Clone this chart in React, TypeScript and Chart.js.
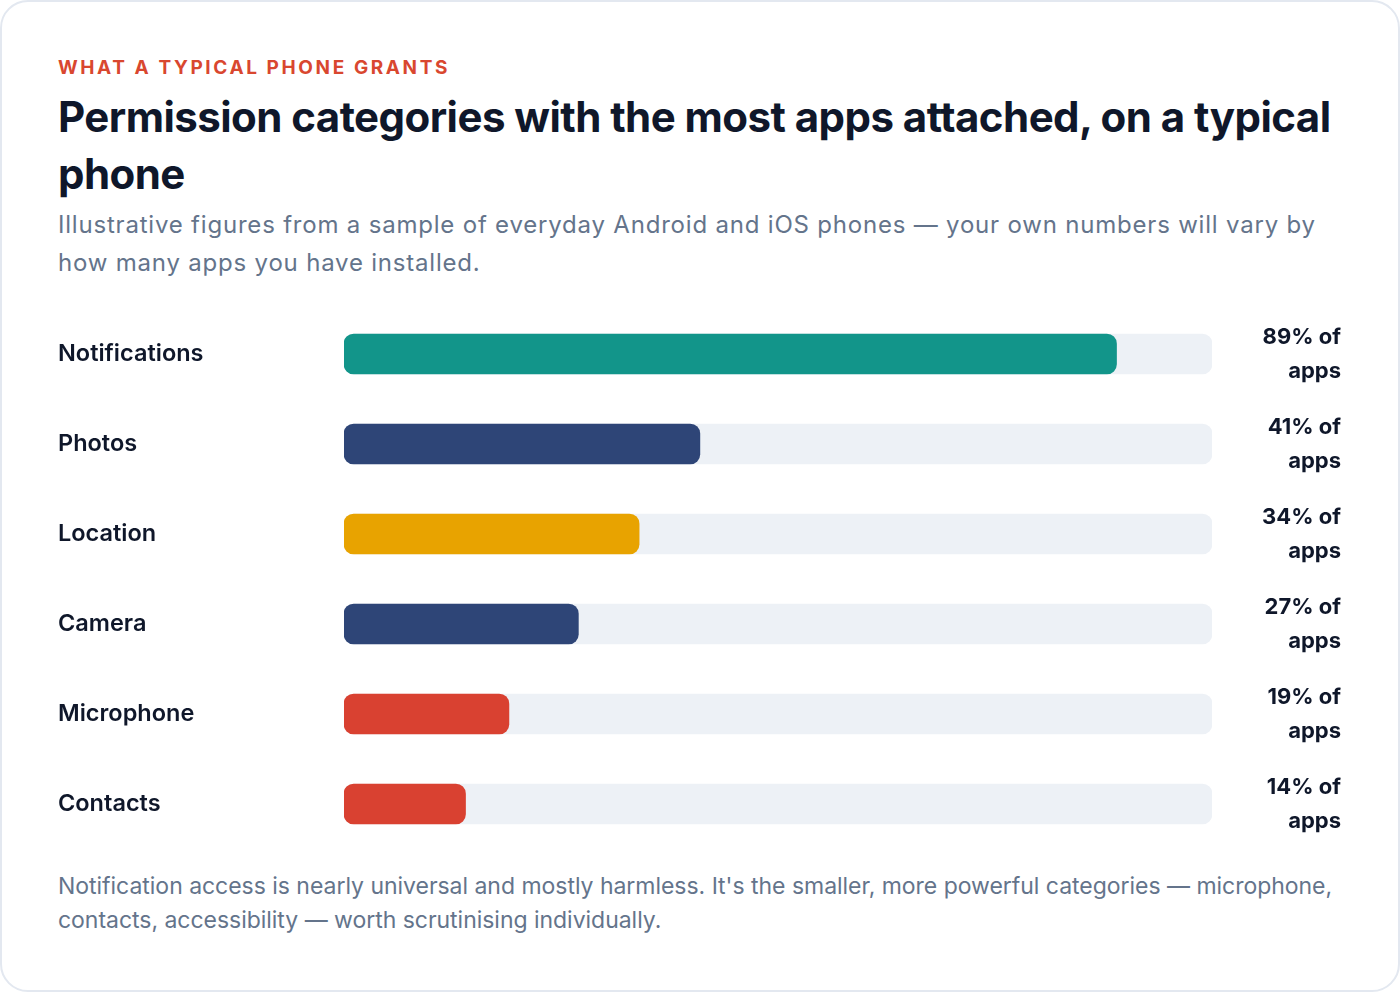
import React, { useEffect, useRef } from "react";
import { Chart, registerables } from "chart.js";

Chart.register(...registerables);

const categories = ["Notifications", "Photos", "Location", "Camera", "Microphone", "Contacts"];
const shares = [89, 41, 34, 27, 19, 14];
const barColors = ["#12958a", "#2e4577", "#e8a300", "#2e4577", "#d94131", "#d94131"];
const trackValues = [100, 100, 100, 100, 100, 100];

const FONT = "Inter, 'Noto Sans', sans-serif";

const noVerticalPadding = (axis: any, width: number) => {
  axis.width = width;
  axis.paddingTop = 0;
  axis.paddingBottom = 0;
};

export default function App() {
  const canvasRef = useRef<HTMLCanvasElement | null>(null);

  useEffect(() => {
    document.body.style.margin = "0";
    const canvas = canvasRef.current;
    if (!canvas) return;
    const chart = new Chart(canvas, {
      type: "bar",
      data: {
        labels: categories,
        datasets: [
          {
            data: shares,
            backgroundColor: barColors,
            borderRadius: 10,
            borderSkipped: false,
            barThickness: 40,
            grouped: false,
            order: 1,
          },
          {
            data: trackValues,
            backgroundColor: "#edf1f6",
            borderRadius: 10,
            borderSkipped: false,
            barThickness: 40,
            grouped: false,
            order: 2,
          },
        ],
      },
      options: {
        indexAxis: "y",
        animation: false,
        responsive: true,
        maintainAspectRatio: false,
        layout: { padding: 0 },
        plugins: { legend: { display: false }, tooltip: { enabled: false } },
        scales: {
          x: { display: false, min: 0, max: 100 },
          y: {
            position: "left",
            grid: { display: false },
            border: { display: false },
            ticks: {
              crossAlign: "far",
              padding: 0,
              color: "#0f172a",
              font: { family: FONT, size: 23.5, weight: 600 },
            },
            afterFit: (axis: any) => noVerticalPadding(axis, 286),
          },
          y2: {
            type: "category",
            position: "right",
            labels: categories,
            offset: true,
            grid: { display: false },
            border: { display: false },
            ticks: {
              crossAlign: "far",
              padding: 0,
              color: "#0f172a",
              font: { family: FONT, size: 22, weight: 700, lineHeight: 1.55 },
              callback: (_v: any, i: number) => [`${shares[i]}% of`, "apps"],
            },
            afterFit: (axis: any) => noVerticalPadding(axis, 129),
          },
        },
      },
    });
    return () => chart.destroy();
  }, []);

  return (
    <div
      style={{
        position: "absolute",
        left: 0,
        top: 0,
        width: 1400,
        height: 992,
        boxSizing: "border-box",
        border: "2px solid #e3e8f0",
        borderRadius: 28,
        background: "#ffffff",
        fontFamily: FONT,
        overflow: "hidden",
      }}
    >
      <div
        style={{
          position: "absolute",
          left: 56,
          top: 53,
          fontSize: 19,
          fontWeight: 700,
          letterSpacing: 2.6,
          color: "#d9472f",
          lineHeight: "26px",
        }}
      >
        WHAT A TYPICAL PHONE GRANTS
      </div>
      <div
        style={{
          position: "absolute",
          left: 56,
          top: 86,
          width: 1320,
          fontSize: 42,
          fontWeight: 700,
          letterSpacing: -0.55,
          color: "#0f172a",
          lineHeight: "57px",
        }}
      >
        Permission categories with the most apps attached, on a typical
        <br />
        phone
      </div>
      <div
        style={{
          position: "absolute",
          left: 56,
          top: 204,
          width: 1320,
          fontSize: 24,
          fontWeight: 400,
          letterSpacing: 0.8,
          color: "#64748b",
          lineHeight: "38px",
        }}
      >
        Illustrative figures from a sample of everyday Android and iOS phones — your own numbers will vary by
        <br />
        how many apps you have installed.
      </div>
      <div style={{ position: "absolute", left: 56, top: 307, width: 1283, height: 540 }}>
        <canvas ref={canvasRef} />
      </div>
      <div
        style={{
          position: "absolute",
          left: 56,
          top: 867,
          width: 1320,
          fontSize: 23,
          fontWeight: 400,
          letterSpacing: -0.03,
          color: "#64748b",
          lineHeight: "34px",
        }}
      >
        Notification access is nearly universal and mostly harmless. It's the smaller, more powerful categories — microphone,
        <br />
        contacts, accessibility — worth scrutinising individually.
      </div>
    </div>
  );
}
